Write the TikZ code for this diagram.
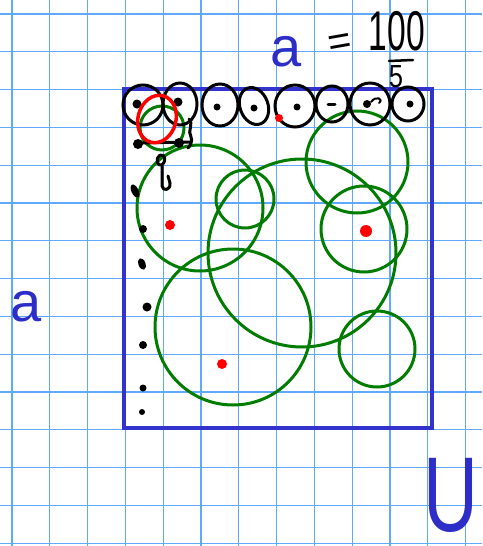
\documentclass[tikz,border=0pt]{standalone}
\usepackage{fontspec}
\setmainfont{Liberation Sans}
\definecolor{gridblue}{RGB}{95,170,255}
\definecolor{sqblue}{RGB}{50,50,205}
\definecolor{dgreen}{RGB}{0,125,0}
\definecolor{inkblue}{RGB}{45,45,200}
\begin{document}
\begin{tikzpicture}[x=1pt,y=-1pt,
  gridline/.style={draw=gridblue,line width=1.3pt},
  greenc/.style={draw=dgreen,line width=3pt},
  blackc/.style={draw=black,line width=3pt},
  blackdot/.style={fill=black},
  reddot/.style={fill=red},
  redc/.style={draw=red,line width=3.5pt},
  scrib/.style={draw=black,line width=3pt,line cap=round,line join=round},
  hand/.style={inner sep=0pt,outer sep=0pt}]
\useasboundingbox (0,0) rectangle (482,546);
\fill[white] (0,0) rectangle (482,546);
% grid
\foreach \i in {0,...,12} \draw[gridline] ({12+37.8*\i},0) -- ({12+37.8*\i},546);
\foreach \j in {0,...,14} \draw[gridline] (0,{14+37.8*\j}) -- (482,{14+37.8*\j});
% blue square
\draw[draw=sqblue,line width=3.5pt] (124,89) rectangle (432,428);
% green circles
\draw[greenc] (200,208) circle (63);
\draw[greenc] (245,199) circle (29);
\draw[greenc] (302,253) circle (94);
\draw[greenc] (357,162) circle (51);
\draw[greenc] (364,229) circle (43);
\draw[greenc] (233,327) circle (78);
\draw[greenc] (377,349) circle (38);
\draw[greenc] (162,128) circle (22);
% black circles top row
\draw[blackc] (143,105) ellipse [x radius=20,y radius=20];
\draw[blackc] (180,104) ellipse [x radius=17,y radius=21];
\draw[blackc] (220,105) ellipse [x radius=18,y radius=21];
\draw[blackc,rotate around={20:(254,106)}] (254,106) ellipse [x radius=14,y radius=19];
\draw[blackc] (295,106) ellipse [x radius=20,y radius=21];
\draw[blackc] (332,104) ellipse [x radius=16,y radius=18];
\draw[blackc] (370,104) ellipse [x radius=20,y radius=21];
\draw[blackc] (408,104) ellipse [x radius=16,y radius=17];
% dots in circles
\fill[blackdot] (137,104) circle (4.5);
\fill[blackdot] (178,102) circle (4.5);
\fill[blackdot] (217,107) circle (3.5);
\fill[blackdot] (254,108) circle (3.5);
\fill[blackdot] (297,107) circle (3.5);
\draw[scrib] (328,104) -- (335,104);
\fill[blackdot] (367,104) circle (4);
\draw[scrib,line width=2pt] (371,102) .. controls (376,95) and (384,99) .. (379,103);
\fill[blackdot] (410,104) circle (3.5);
% scribbles top-left
\draw[scrib] (138,143) -- (190,142);
\fill[blackdot] (138,144) circle (5);
\fill[blackdot] (179,143) circle (5);
\draw[scrib] (189,119) .. controls (194,124) and (187,131) .. (191,137) .. controls (193,141) and (190,146) .. (188,148);
\draw[scrib] (160,155) .. controls (155,158) and (157,167) .. (162,165) .. controls (166,162) and (166,154) .. (160,155);
\draw[scrib] (162,166) -- (162,186) .. controls (163,192) and (171,190) .. (170,183) -- (168,176);
% left column dots
\fill[blackdot,rotate around={-65:(135,191)}] (135,191) ellipse [x radius=7,y radius=3.5];
\fill[blackdot] (143,229) circle (4);
\fill[blackdot,rotate around={-70:(142,264)}] (142,264) ellipse [x radius=6,y radius=3.5];
\fill[blackdot] (147,307) circle (4.5);
\fill[blackdot] (143,345) circle (4);
\fill[blackdot] (143,388) circle (3.5);
\fill[blackdot] (142,412) circle (3);
% red
\draw[redc,rotate around={-15:(157,119)}] (157,119) ellipse [x radius=19,y radius=24];
\fill[reddot] (279,118) circle (4);
\fill[reddot] (170,225) circle (5);
\fill[reddot] (366,231) circle (6);
\fill[reddot] (222,364) circle (5);
% text
\node[hand,text=inkblue,font=\fontsize{56}{56}\selectfont] (atop) at (286,52) {a};
\node[hand,text=inkblue,font=\fontsize{56}{56}\selectfont] (aleft) at (26,307) {a};
\node[hand,rotate=10,font=\fontsize{40}{40}\selectfont] (eq) at (340,45) {=};
\node[hand,xscale=0.6,font=\fontsize{56}{56}\selectfont] (num) at (397,31) {100};
\coordinate (barl) at (389,61);
\coordinate (barr) at (413,60);
\draw[scrib,line width=2.5pt] (barl) -- (barr);
\node[hand,xscale=0.8,font=\fontsize{32}{32}\selectfont] (den) at (396,77) {5};
\node[hand,text=inkblue,yscale=1.4,font=\fontsize{76}{76}\selectfont] (uset) at (451,495) {U};
\end{tikzpicture}
\end{document}
